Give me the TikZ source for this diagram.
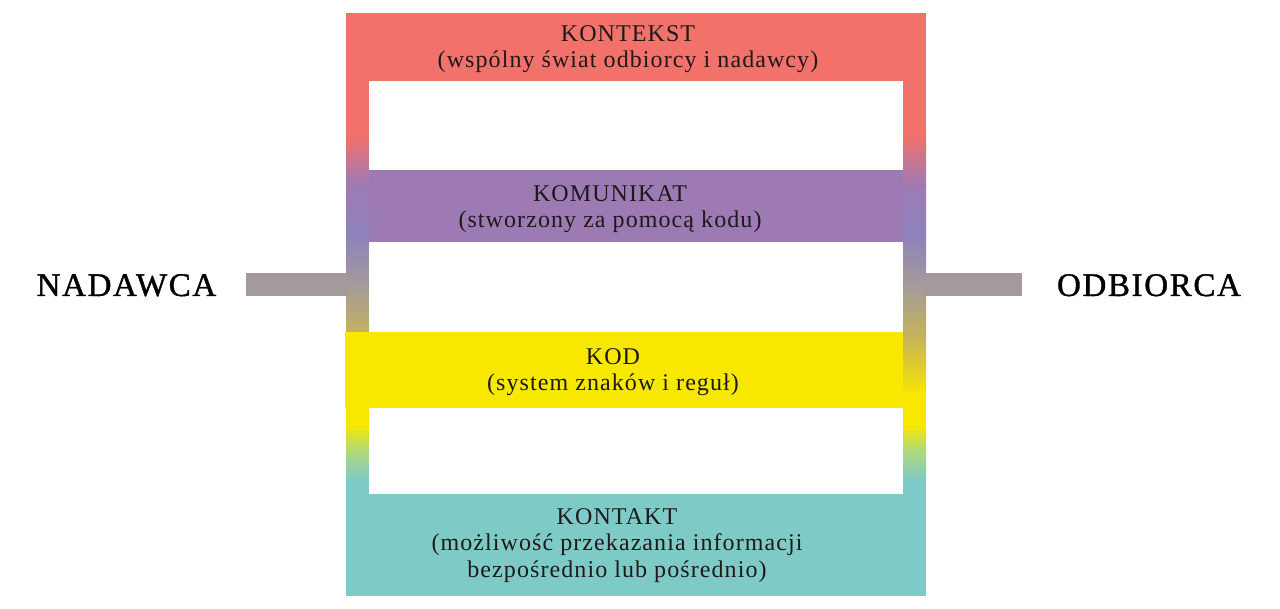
\documentclass[tikz,border=0pt]{standalone}
\usepackage{fontspec}
\setmainfont[LetterSpace=4.5]{Liberation Serif}
\newfontfamily\sidefont[LetterSpace=5,FakeBold=1.2]{Liberation Serif}
\definecolor{cred}{HTML}{F2716A}
\definecolor{cpurp}{HTML}{9E7AB5}
\definecolor{cblue}{HTML}{8E82BB}
\definecolor{cgray}{HTML}{A39B9B}
\definecolor{colive}{HTML}{C9B555}
\definecolor{cyel}{HTML}{F8E800}
\definecolor{cgreen}{HTML}{B0D97A}
\definecolor{cteal}{HTML}{7ECAC7}
\definecolor{ctext}{HTML}{1E1A1A}
\tikzset{
  seg/.style 2 args={top color=#1, bottom color=#2, draw=none},
  gap/.style={fill=white, draw=none},
  band/.style={fill=#1, draw=none},
  lbl/.style={align=center, inner sep=0pt, anchor=north, text=ctext,
              font=\fontsize{24}{26.5}\selectfont},
  side/.style={inner sep=0pt, anchor=base, text=black,
               font=\sidefont\fontsize{33}{36}\selectfont},
  bar/.style={draw=cgray, line width=23pt}
}
\begin{document}
\begin{tikzpicture}[x=1pt,y=-1pt]
\useasboundingbox (0,0) rectangle (1280,609);
% frame with vertical gradient
\fill[cred] (346,13) rectangle (926,135.5);
\shade[seg={cred}{cpurp}] (346,135) rectangle (926,185.5);
\shade[seg={cpurp}{cblue}] (346,185) rectangle (926,235.5);
\shade[seg={cblue}{cgray}] (346,235) rectangle (926,285.5);
\shade[seg={cgray}{colive}] (346,285) rectangle (926,340.5);
\shade[seg={colive}{cyel}] (346,340) rectangle (926,395.5);
\fill[cyel] (346,395) rectangle (926,425.5);
\shade[seg={cyel}{cgreen}] (346,425) rectangle (926,450.5);
\shade[seg={cgreen}{cteal}] (346,450) rectangle (926,480.5);
\fill[cteal] (346,480) rectangle (926,596);
% white gaps
\fill[gap] (369,81) rectangle (903,170);
\fill[gap] (369,242) rectangle (903,332);
\fill[gap] (369,408) rectangle (903,494);
% bands
\fill[band=cpurp] (369,170) rectangle (903,242);
\fill[band=cyel] (345,332) rectangle (903,408);
% labels
\node[lbl] (kontekst) at (628,25) {KONTEKST\\(wspólny świat odbiorcy i nadawcy)};
\node[lbl] (komunikat) at (610,185) {KOMUNIKAT\\(stworzony za pomocą kodu)};
\node[lbl] (kod) at (613,348) {KOD\\(system znaków i reguł)};
\node[lbl] (kontakt) at (617,508) {KONTAKT\\(możliwość przekazania informacji\\bezpośrednio lub pośrednio)};
% sides
\node[side] (nadawca) at (126.5,296) {NADAWCA};
\node[side] (odbiorca) at (1149,296) {ODBIORCA};
\coordinate (lin) at (346,284.5);
\coordinate (lout) at (246,284.5);
\coordinate (rin) at (926,284.5);
\coordinate (rout) at (1022,284.5);
\draw[bar] (lout) -- (lin);
\draw[bar] (rin) -- (rout);
\end{tikzpicture}
\end{document}
